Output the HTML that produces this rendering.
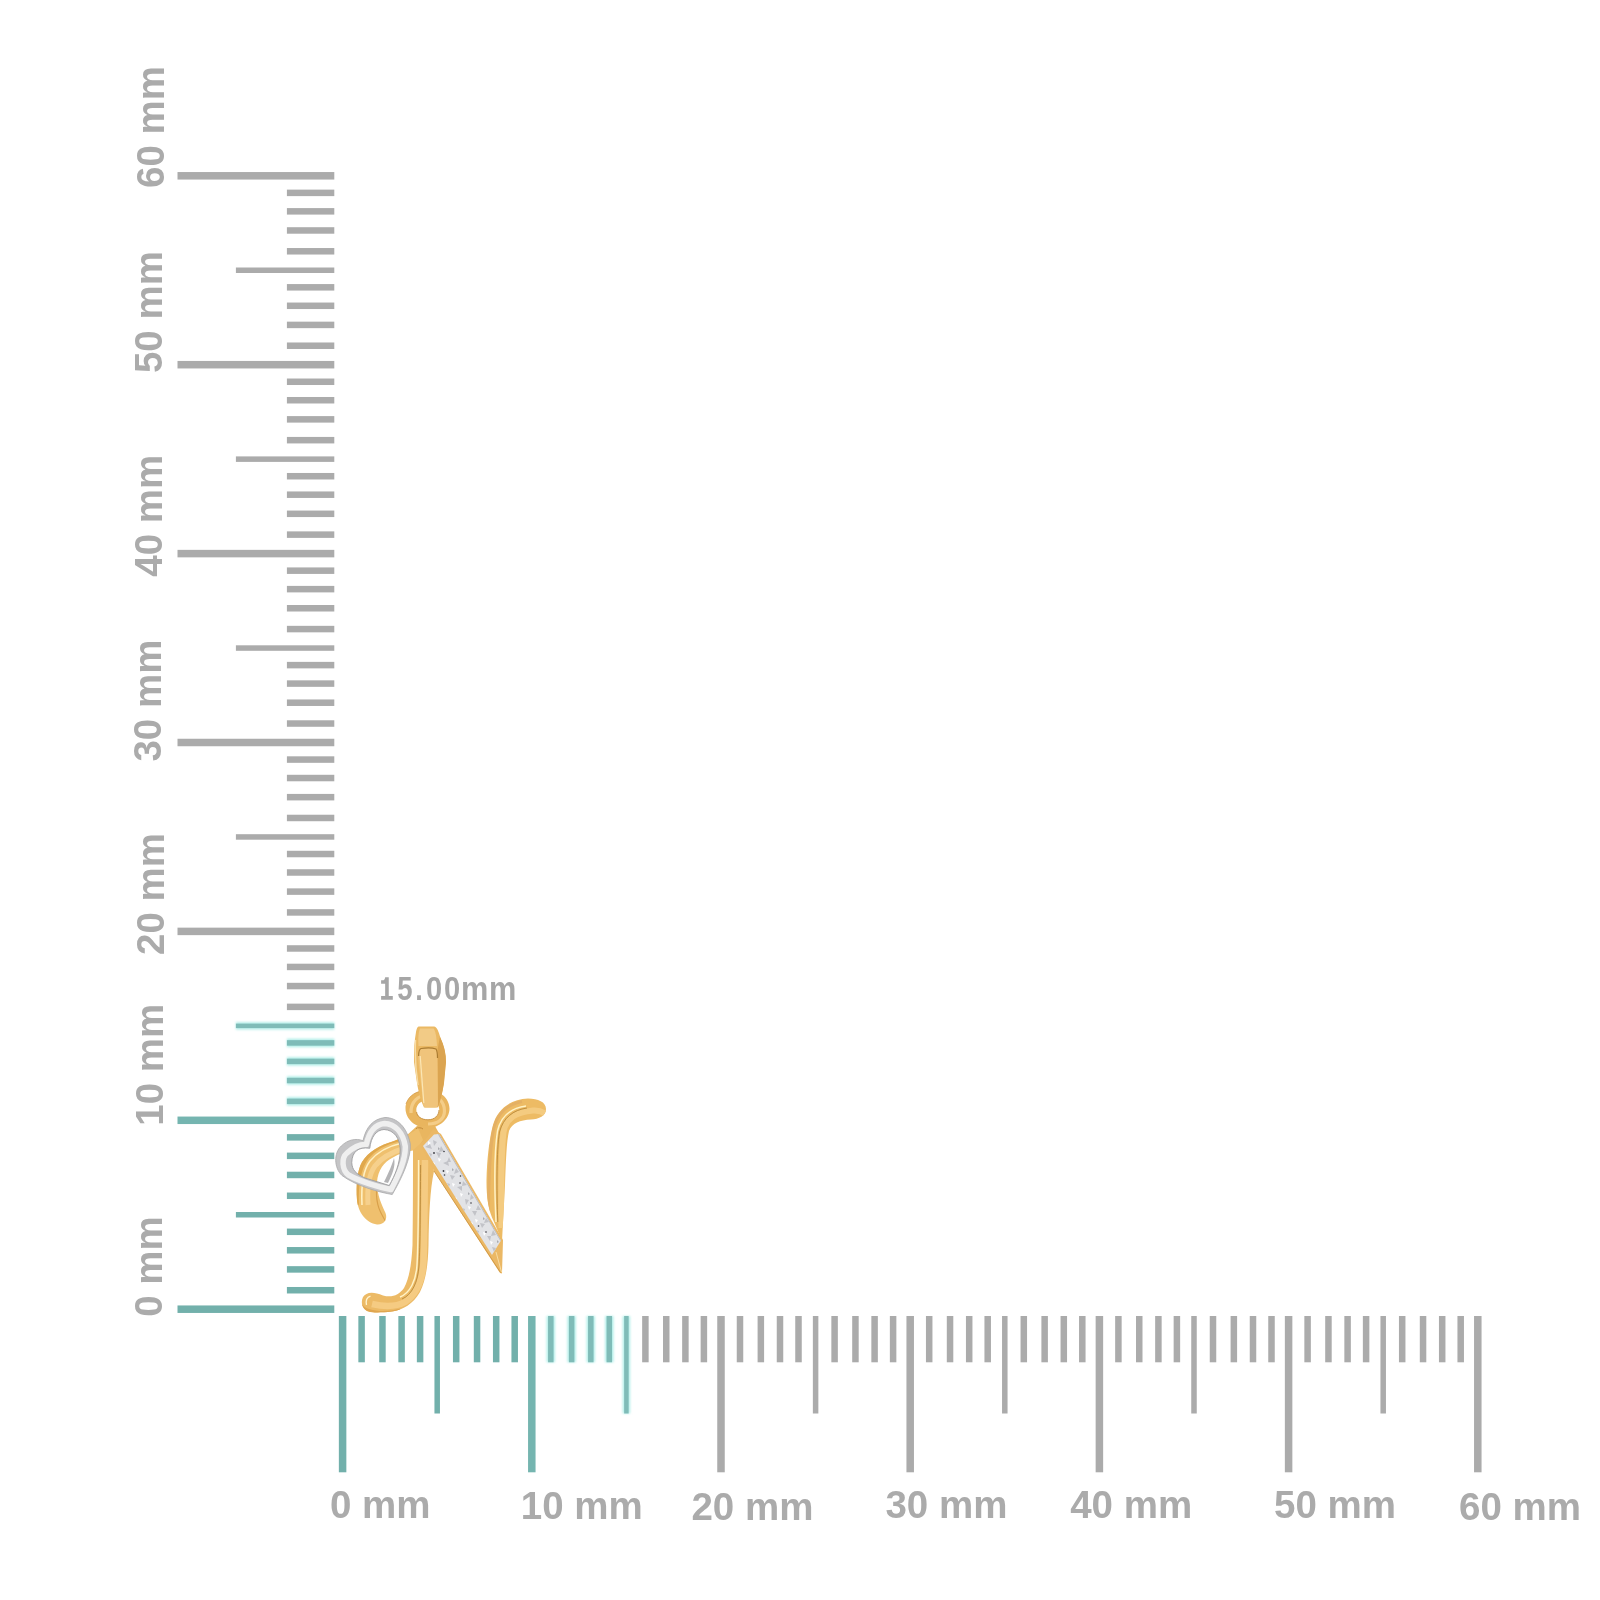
<!DOCTYPE html>
<html><head><meta charset="utf-8"><style>
html,body{margin:0;padding:0;background:#fff;}
body{width:1600px;height:1600px;overflow:hidden;}
svg{display:block;will-change:transform;}
</style></head><body>
<svg width="1600" height="1600" viewBox="0 0 1600 1600">
<defs><filter id="soft" x="-50%" y="-50%" width="200%" height="200%"><feGaussianBlur stdDeviation="0.8"/></filter><filter id="soft2" x="-50%" y="-50%" width="200%" height="200%"><feGaussianBlur stdDeviation="0.4"/></filter></defs>
<rect width="1600" height="1600" fill="#fff"/>
<rect x="177.50" y="1305.45" width="156.80" height="7.5" fill="#72b0ab"/>
<rect x="286.90" y="1286.98" width="47.40" height="6.5" fill="#72b0ab"/>
<rect x="286.90" y="1266.16" width="47.40" height="6.5" fill="#72b0ab"/>
<rect x="286.90" y="1247.04" width="47.40" height="6.5" fill="#72b0ab"/>
<rect x="286.90" y="1228.57" width="47.40" height="6.5" fill="#72b0ab"/>
<rect x="235.90" y="1212.00" width="98.40" height="5.5" fill="#72b0ab"/>
<rect x="286.90" y="1192.53" width="47.40" height="6.5" fill="#72b0ab"/>
<rect x="286.90" y="1171.71" width="47.40" height="6.5" fill="#72b0ab"/>
<rect x="286.90" y="1152.59" width="47.40" height="6.5" fill="#72b0ab"/>
<rect x="286.90" y="1134.12" width="47.40" height="6.5" fill="#72b0ab"/>
<rect x="177.50" y="1116.55" width="156.80" height="7.5" fill="#75b5b0"/>
<rect x="286.90" y="1097.08" width="47.40" height="8.5" fill="#b4efe9" filter="url(#soft)"/>
<rect x="286.90" y="1098.58" width="47.40" height="5.50" fill="#7fbcb8" filter="url(#soft2)"/>
<rect x="286.90" y="1076.26" width="47.40" height="8.5" fill="#b4efe9" filter="url(#soft)"/>
<rect x="286.90" y="1077.76" width="47.40" height="5.50" fill="#7fbcb8" filter="url(#soft2)"/>
<rect x="286.90" y="1057.14" width="47.40" height="8.5" fill="#b4efe9" filter="url(#soft)"/>
<rect x="286.90" y="1058.64" width="47.40" height="5.50" fill="#7fbcb8" filter="url(#soft2)"/>
<rect x="286.90" y="1038.67" width="47.40" height="8.5" fill="#b4efe9" filter="url(#soft)"/>
<rect x="286.90" y="1040.17" width="47.40" height="5.50" fill="#7fbcb8" filter="url(#soft2)"/>
<rect x="235.90" y="1022.10" width="98.40" height="7.5" fill="#b4efe9" filter="url(#soft)"/>
<rect x="235.90" y="1023.60" width="98.40" height="4.50" fill="#7fbcb8" filter="url(#soft2)"/>
<rect x="286.90" y="1003.63" width="47.40" height="6.5" fill="#ababab"/>
<rect x="286.90" y="982.81" width="47.40" height="6.5" fill="#ababab"/>
<rect x="286.90" y="963.69" width="47.40" height="6.5" fill="#ababab"/>
<rect x="286.90" y="945.22" width="47.40" height="6.5" fill="#ababab"/>
<rect x="177.50" y="927.65" width="156.80" height="7.5" fill="#ababab"/>
<rect x="286.90" y="909.18" width="47.40" height="6.5" fill="#ababab"/>
<rect x="286.90" y="888.36" width="47.40" height="6.5" fill="#ababab"/>
<rect x="286.90" y="869.24" width="47.40" height="6.5" fill="#ababab"/>
<rect x="286.90" y="850.77" width="47.40" height="6.5" fill="#ababab"/>
<rect x="235.90" y="834.20" width="98.40" height="5.5" fill="#ababab"/>
<rect x="286.90" y="814.73" width="47.40" height="6.5" fill="#ababab"/>
<rect x="286.90" y="793.91" width="47.40" height="6.5" fill="#ababab"/>
<rect x="286.90" y="774.79" width="47.40" height="6.5" fill="#ababab"/>
<rect x="286.90" y="756.32" width="47.40" height="6.5" fill="#ababab"/>
<rect x="177.50" y="738.75" width="156.80" height="7.5" fill="#ababab"/>
<rect x="286.90" y="720.28" width="47.40" height="6.5" fill="#ababab"/>
<rect x="286.90" y="699.46" width="47.40" height="6.5" fill="#ababab"/>
<rect x="286.90" y="680.34" width="47.40" height="6.5" fill="#ababab"/>
<rect x="286.90" y="661.87" width="47.40" height="6.5" fill="#ababab"/>
<rect x="235.90" y="645.30" width="98.40" height="5.5" fill="#ababab"/>
<rect x="286.90" y="625.83" width="47.40" height="6.5" fill="#ababab"/>
<rect x="286.90" y="605.01" width="47.40" height="6.5" fill="#ababab"/>
<rect x="286.90" y="585.89" width="47.40" height="6.5" fill="#ababab"/>
<rect x="286.90" y="567.42" width="47.40" height="6.5" fill="#ababab"/>
<rect x="177.50" y="549.85" width="156.80" height="7.5" fill="#ababab"/>
<rect x="286.90" y="531.38" width="47.40" height="6.5" fill="#ababab"/>
<rect x="286.90" y="510.56" width="47.40" height="6.5" fill="#ababab"/>
<rect x="286.90" y="491.44" width="47.40" height="6.5" fill="#ababab"/>
<rect x="286.90" y="472.97" width="47.40" height="6.5" fill="#ababab"/>
<rect x="235.90" y="456.40" width="98.40" height="5.5" fill="#ababab"/>
<rect x="286.90" y="436.93" width="47.40" height="6.5" fill="#ababab"/>
<rect x="286.90" y="416.11" width="47.40" height="6.5" fill="#ababab"/>
<rect x="286.90" y="396.99" width="47.40" height="6.5" fill="#ababab"/>
<rect x="286.90" y="378.52" width="47.40" height="6.5" fill="#ababab"/>
<rect x="177.50" y="360.95" width="156.80" height="7.5" fill="#ababab"/>
<rect x="286.90" y="342.48" width="47.40" height="6.5" fill="#ababab"/>
<rect x="286.90" y="321.66" width="47.40" height="6.5" fill="#ababab"/>
<rect x="286.90" y="302.54" width="47.40" height="6.5" fill="#ababab"/>
<rect x="286.90" y="284.07" width="47.40" height="6.5" fill="#ababab"/>
<rect x="235.90" y="267.50" width="98.40" height="5.5" fill="#ababab"/>
<rect x="286.90" y="248.03" width="47.40" height="6.5" fill="#ababab"/>
<rect x="286.90" y="227.21" width="47.40" height="6.5" fill="#ababab"/>
<rect x="286.90" y="208.09" width="47.40" height="6.5" fill="#ababab"/>
<rect x="286.90" y="189.62" width="47.40" height="6.5" fill="#ababab"/>
<rect x="177.50" y="172.05" width="156.80" height="7.5" fill="#ababab"/>
<rect x="338.85" y="1316.0" width="7.5" height="156.30" fill="#72b0ab"/>
<rect x="358.35" y="1316.0" width="6.5" height="46.30" fill="#72b0ab"/>
<rect x="379.20" y="1316.0" width="6.5" height="46.30" fill="#72b0ab"/>
<rect x="398.35" y="1316.0" width="6.5" height="46.30" fill="#72b0ab"/>
<rect x="416.85" y="1316.0" width="6.5" height="46.30" fill="#72b0ab"/>
<rect x="434.45" y="1316.0" width="5.5" height="97.50" fill="#72b0ab"/>
<rect x="452.95" y="1316.0" width="6.5" height="46.30" fill="#72b0ab"/>
<rect x="473.80" y="1316.0" width="6.5" height="46.30" fill="#72b0ab"/>
<rect x="492.95" y="1316.0" width="6.5" height="46.30" fill="#72b0ab"/>
<rect x="511.45" y="1316.0" width="6.5" height="46.30" fill="#72b0ab"/>
<rect x="528.05" y="1316.0" width="7.5" height="156.30" fill="#75b5b0"/>
<rect x="546.55" y="1316.0" width="8.5" height="46.30" fill="#b4efe9" filter="url(#soft)"/>
<rect x="548.05" y="1316.0" width="5.50" height="46.30" fill="#7fbcb8" filter="url(#soft2)"/>
<rect x="567.40" y="1316.0" width="8.5" height="46.30" fill="#b4efe9" filter="url(#soft)"/>
<rect x="568.90" y="1316.0" width="5.50" height="46.30" fill="#7fbcb8" filter="url(#soft2)"/>
<rect x="586.55" y="1316.0" width="8.5" height="46.30" fill="#b4efe9" filter="url(#soft)"/>
<rect x="588.05" y="1316.0" width="5.50" height="46.30" fill="#7fbcb8" filter="url(#soft2)"/>
<rect x="605.05" y="1316.0" width="8.5" height="46.30" fill="#b4efe9" filter="url(#soft)"/>
<rect x="606.55" y="1316.0" width="5.50" height="46.30" fill="#7fbcb8" filter="url(#soft2)"/>
<rect x="622.65" y="1316.0" width="7.5" height="97.50" fill="#b4efe9" filter="url(#soft)"/>
<rect x="624.15" y="1316.0" width="4.50" height="97.50" fill="#7fbcb8" filter="url(#soft2)"/>
<rect x="642.15" y="1316.0" width="6.5" height="46.30" fill="#ababab"/>
<rect x="663.00" y="1316.0" width="6.5" height="46.30" fill="#ababab"/>
<rect x="682.15" y="1316.0" width="6.5" height="46.30" fill="#ababab"/>
<rect x="700.65" y="1316.0" width="6.5" height="46.30" fill="#ababab"/>
<rect x="717.25" y="1316.0" width="7.5" height="156.30" fill="#ababab"/>
<rect x="736.75" y="1316.0" width="6.5" height="46.30" fill="#ababab"/>
<rect x="757.60" y="1316.0" width="6.5" height="46.30" fill="#ababab"/>
<rect x="776.75" y="1316.0" width="6.5" height="46.30" fill="#ababab"/>
<rect x="795.25" y="1316.0" width="6.5" height="46.30" fill="#ababab"/>
<rect x="812.85" y="1316.0" width="5.5" height="97.50" fill="#ababab"/>
<rect x="831.35" y="1316.0" width="6.5" height="46.30" fill="#ababab"/>
<rect x="852.20" y="1316.0" width="6.5" height="46.30" fill="#ababab"/>
<rect x="871.35" y="1316.0" width="6.5" height="46.30" fill="#ababab"/>
<rect x="889.85" y="1316.0" width="6.5" height="46.30" fill="#ababab"/>
<rect x="906.45" y="1316.0" width="7.5" height="156.30" fill="#ababab"/>
<rect x="925.95" y="1316.0" width="6.5" height="46.30" fill="#ababab"/>
<rect x="946.80" y="1316.0" width="6.5" height="46.30" fill="#ababab"/>
<rect x="965.95" y="1316.0" width="6.5" height="46.30" fill="#ababab"/>
<rect x="984.45" y="1316.0" width="6.5" height="46.30" fill="#ababab"/>
<rect x="1002.05" y="1316.0" width="5.5" height="97.50" fill="#ababab"/>
<rect x="1020.55" y="1316.0" width="6.5" height="46.30" fill="#ababab"/>
<rect x="1041.40" y="1316.0" width="6.5" height="46.30" fill="#ababab"/>
<rect x="1060.55" y="1316.0" width="6.5" height="46.30" fill="#ababab"/>
<rect x="1079.05" y="1316.0" width="6.5" height="46.30" fill="#ababab"/>
<rect x="1095.65" y="1316.0" width="7.5" height="156.30" fill="#ababab"/>
<rect x="1115.15" y="1316.0" width="6.5" height="46.30" fill="#ababab"/>
<rect x="1136.00" y="1316.0" width="6.5" height="46.30" fill="#ababab"/>
<rect x="1155.15" y="1316.0" width="6.5" height="46.30" fill="#ababab"/>
<rect x="1173.65" y="1316.0" width="6.5" height="46.30" fill="#ababab"/>
<rect x="1191.25" y="1316.0" width="5.5" height="97.50" fill="#ababab"/>
<rect x="1209.75" y="1316.0" width="6.5" height="46.30" fill="#ababab"/>
<rect x="1230.60" y="1316.0" width="6.5" height="46.30" fill="#ababab"/>
<rect x="1249.75" y="1316.0" width="6.5" height="46.30" fill="#ababab"/>
<rect x="1268.25" y="1316.0" width="6.5" height="46.30" fill="#ababab"/>
<rect x="1284.85" y="1316.0" width="7.5" height="156.30" fill="#ababab"/>
<rect x="1304.35" y="1316.0" width="6.5" height="46.30" fill="#ababab"/>
<rect x="1325.20" y="1316.0" width="6.5" height="46.30" fill="#ababab"/>
<rect x="1344.35" y="1316.0" width="6.5" height="46.30" fill="#ababab"/>
<rect x="1362.85" y="1316.0" width="6.5" height="46.30" fill="#ababab"/>
<rect x="1380.45" y="1316.0" width="5.5" height="97.50" fill="#ababab"/>
<rect x="1398.95" y="1316.0" width="6.5" height="46.30" fill="#ababab"/>
<rect x="1419.80" y="1316.0" width="6.5" height="46.30" fill="#ababab"/>
<rect x="1438.95" y="1316.0" width="6.5" height="46.30" fill="#ababab"/>
<rect x="1457.45" y="1316.0" width="6.5" height="46.30" fill="#ababab"/>
<rect x="1474.05" y="1316.0" width="7.5" height="156.30" fill="#ababab"/>
<text x="330.00" y="1518.00" font-family="Liberation Sans" font-weight="bold" font-size="38.5" fill="#ababab">0 mm</text>
<text x="520.75" y="1518.60" font-family="Liberation Sans" font-weight="bold" font-size="38.5" fill="#ababab">10 mm</text>
<text x="691.40" y="1520.10" font-family="Liberation Sans" font-weight="bold" font-size="38.5" fill="#ababab">20 mm</text>
<text x="885.40" y="1517.70" font-family="Liberation Sans" font-weight="bold" font-size="38.5" fill="#ababab">30 mm</text>
<text x="1070.20" y="1517.90" font-family="Liberation Sans" font-weight="bold" font-size="38.5" fill="#ababab">40 mm</text>
<text x="1274.10" y="1518.40" font-family="Liberation Sans" font-weight="bold" font-size="38.5" fill="#ababab">50 mm</text>
<text x="1459.00" y="1520.00" font-family="Liberation Sans" font-weight="bold" font-size="38.5" fill="#ababab">60 mm</text>
<text transform="translate(164.00,187.90) rotate(-90)" font-family="Liberation Sans" font-weight="bold" font-size="38.5" fill="#ababab">60 mm</text>
<text transform="translate(162.30,373.10) rotate(-90)" font-family="Liberation Sans" font-weight="bold" font-size="38.5" fill="#ababab">50 mm</text>
<text transform="translate(161.75,576.75) rotate(-90)" font-family="Liberation Sans" font-weight="bold" font-size="38.5" fill="#ababab">40 mm</text>
<text transform="translate(161.40,761.60) rotate(-90)" font-family="Liberation Sans" font-weight="bold" font-size="38.5" fill="#ababab">30 mm</text>
<text transform="translate(164.00,955.00) rotate(-90)" font-family="Liberation Sans" font-weight="bold" font-size="38.5" fill="#ababab">20 mm</text>
<text transform="translate(162.50,1125.75) rotate(-90)" font-family="Liberation Sans" font-weight="bold" font-size="38.5" fill="#ababab">10 mm</text>
<text transform="translate(161.90,1316.75) rotate(-90)" font-family="Liberation Sans" font-weight="bold" font-size="38.5" fill="#ababab">0 mm</text>
<path fill="#a6a6a6" d="M385.15 977.2 L388.75 977.2 L388.75 996.1 L392.8 996.1 L392.8 999.7 L381.1 999.7 L381.1 996.1 L385.15 996.1 L385.15 983.8 L381.1 983.8 L381.1 980.2 L383.6 980.2 C384.6 979.5 385 978.5 385.15 977.2 Z"/>
<text transform="translate(397.24,999.8) scale(0.86,1.045)" font-family="Liberation Sans" font-weight="bold" font-size="32" fill="#a6a6a6">5</text>
<text transform="translate(415.30,999.8) scale(0.85,1.0)" font-family="Liberation Sans" font-weight="bold" font-size="32" fill="#a6a6a6">.</text>
<text transform="translate(426.09,999.8) scale(0.91,1.045)" font-family="Liberation Sans" font-weight="bold" font-size="32" fill="#a6a6a6">0</text>
<text transform="translate(444.09,999.8) scale(0.91,1.045)" font-family="Liberation Sans" font-weight="bold" font-size="32" fill="#a6a6a6">0</text>
<text transform="translate(461.08,999.8) scale(0.96,1.02)" font-family="Liberation Sans" font-weight="bold" font-size="32" fill="#a6a6a6">m</text>
<text transform="translate(489.08,999.8) scale(0.96,1.02)" font-family="Liberation Sans" font-weight="bold" font-size="32" fill="#a6a6a6">m</text>
<g id="pendant">
<defs>
  <clipPath id="cBand"><path d="M423 1146 L434 1134.5 L439 1134 L501 1240.5 L492 1255 Z"/></clipPath>
  <clipPath id="cStem"><path d="M413 1150 L425 1140 L434 1171 C430 1190 429 1215 428.5 1245 C428 1265 426 1280 420 1292 C413 1304 403 1310 392 1311.5 C382 1312.5 374 1313 368 1311.5 C362 1309 360.5 1302 363 1297 C366 1292 373 1291 383 1295.5 C392 1298 399 1295 404 1288 C409 1279 411.5 1265 412.5 1245 C413 1215 413 1185 413 1150 Z"/></clipPath>
  <clipPath id="cRight"><path d="M486.5 1180 C487 1160 489 1140 493 1125 C497 1110 510 1099 528 1098.5 C538 1098.5 546 1102 546 1109 C546 1116 539 1119 531 1119.5 C520 1120 512 1123 509 1131 C506.5 1142 506 1160 505 1185 L502 1241 L494 1222 C488 1210 486.3 1195 486.5 1180 Z"/></clipPath>
  <clipPath id="cLead"><path d="M418 1128 C414 1132 404 1137 394 1141 C380 1145 368 1152 362 1162 C357 1171 356 1185 357 1200 C358 1212 366 1223 377 1224.5 C384 1225 388 1219 385.5 1213 C382 1205 377 1196 377 1182 C378 1170 384 1162 392 1158 C400 1153 408 1151 416 1150 L423 1140 Z"/></clipPath>
  <clipPath id="cBail"><path d="M419 1026.5 L434 1026.5 C437 1027 438.5 1031 440.5 1038 C444 1045 446 1053 446 1062 L444 1083 C442 1095 440 1103 437.5 1107.5 L424 1107.5 C421.5 1102 419 1095 417 1083 L414 1062 C413.8 1050 414.5 1040 416 1032 C416.5 1028.5 417.5 1026.5 419 1026.5 Z"/></clipPath>
</defs>
<!-- jump ring -->
<path fill-rule="evenodd" fill="#e9b55e" d="M427.5 1090 C439.5 1090 449.5 1098 449.5 1108.5 C449.5 1119 439.5 1128 427.5 1128 C415.5 1128 405.5 1119 405.5 1108.5 C405.5 1098 415.5 1090 427.5 1090 Z M427.8 1100.2 C421 1100.2 416.3 1104.5 416.3 1110 C416.3 1115.5 421 1119.8 427.8 1119.8 C434.6 1119.8 439.3 1115.5 439.3 1110 C439.3 1104.5 434.6 1100.2 427.8 1100.2 Z"/>
<path fill="none" stroke="#f4cd88" stroke-width="3.2" d="M411 1113 C410.5 1102 418 1095 428 1095 C438 1095 444.5 1102 444.5 1111 C444.5 1119 438 1124 428 1124"/>
<path fill="none" stroke="#c48c3c" stroke-width="0.9" d="M416.6 1112 C416.8 1116 421 1119.8 428 1119.8 C434.6 1119.8 439 1115.5 439 1110"/>
<path fill="none" stroke="#d39b48" stroke-width="0.8" d="M406 1104 C409 1095 417 1090.5 427.5 1090.5"/>
<!-- junction -->
<path fill="#e9b660" d="M417 1126 L435 1126 L441 1137 L423 1150 L415 1150 L405 1137 Z"/>
<path fill="none" stroke="#c28a3a" stroke-width="1" d="M416 1128.5 C419 1127.5 421 1127.5 423 1129"/>
<!-- bail -->
<path fill="#ebb964" d="M419 1026.5 L434 1026.5 C437 1027 438.5 1031 440.5 1038 C444 1045 446 1053 446 1062 L444 1083 C442 1095 440 1103 437.5 1107.5 L424 1107.5 C421.5 1102 419 1095 417 1083 L414 1062 C413.8 1050 414.5 1040 416 1032 C416.5 1028.5 417.5 1026.5 419 1026.5 Z"/>
<g clip-path="url(#cBail)">
<path fill="#f2cb86" d="M420 1028.5 L433.5 1028.5 C435.5 1031 436.5 1036 437 1046 L418.5 1046 C418 1038 418.5 1032 420 1028.5 Z"/>
<path fill="#dba450" d="M440 1036 C444 1045 447 1055 446 1064 L444 1085 C442 1097 440 1104 437.5 1108 L437.5 1050 Z"/>
<path fill="none" stroke="#f8dca4" stroke-width="1.5" d="M415.5 1040 C414.8 1055 415.5 1070 418 1085"/>
</g>
<path fill="#f0c47b" d="M420 1048.5 C426 1047.5 432 1047.5 436 1049 C437.2 1051 437.5 1056 437.5 1064 L438 1104 C438 1106 437 1107.5 435 1107.5 L426 1107.5 C424 1107.5 423.2 1105 423 1102 L418.5 1062 C418.2 1055 418.8 1050 420 1048.5 Z"/>
<path fill="none" stroke="#a97a30" stroke-width="1.2" d="M418.6 1056 C418.7 1051 419.5 1049 421 1048.5 C427 1047.5 432 1047.5 436 1049 C437 1050.5 437.5 1053 437.5 1058"/>
<path fill="none" stroke="#fbe6b4" stroke-width="1.2" d="M420.2 1056 L423.8 1103"/>
<!-- lead-in stroke -->
<path fill="#efc06e" d="M418 1128 C414 1132 404 1137 394 1141 C380 1145 368 1152 362 1162 C357 1171 356 1185 357 1200 C358 1212 366 1223 377 1224.5 C384 1225 388 1219 385.5 1213 C382 1205 377 1196 377 1182 C378 1170 384 1162 392 1158 C400 1153 408 1151 416 1150 L423 1140 Z"/>
<g clip-path="url(#cLead)">
<path fill="none" stroke="#e0a84c" stroke-width="6" d="M356 1205 C355 1185 358 1168 366 1157 C374 1147 386 1141 400 1138"/>
<path fill="none" stroke="#fff0c2" stroke-width="1.6" d="M362 1205 C361 1185 363 1170 370 1161 C378 1151 389 1146 402 1143"/>
<path fill="none" stroke="#f6d08c" stroke-width="5" d="M368 1205 C367 1188 369 1174 375 1166 C382 1157 392 1152 405 1148"/>
<path fill="none" stroke="#d9a04a" stroke-width="1.2" d="M386 1222 C380 1212 376 1205 376.5 1190"/>
</g>
<!-- main stem with bottom swash -->
<path fill="#ecba66" d="M413 1150 L425 1140 L434 1171 C430 1190 429 1215 428.5 1245 C428 1265 426 1280 420 1292 C413 1304 403 1310 392 1311.5 C382 1312.5 374 1313 368 1311.5 C362 1309 360.5 1302 363 1297 C366 1292 373 1291 383 1295.5 C392 1298 399 1295 404 1288 C409 1279 411.5 1265 412.5 1245 C413 1215 413 1185 413 1150 Z"/>
<g clip-path="url(#cStem)">
<path fill="none" stroke="#f5cb82" stroke-width="6.5" d="M425 1160 C424.5 1200 424.5 1240 423.5 1262 C422.5 1280 417 1294 405 1302 C396 1307 385 1307 372 1304"/>
<path fill="none" stroke="#b98a3c" stroke-width="0.9" d="M420.6 1165 C420.3 1210 420.2 1245 419 1265 C418 1282 412 1295 402 1299"/>
<path fill="none" stroke="#fff3c6" stroke-width="1.5" d="M418.6 1160 C418.5 1210 418.2 1245 417 1265 C416 1281 410 1293 400 1297"/>
<path fill="none" stroke="#fff4d0" stroke-width="1.3" d="M366.5 1305 C365.5 1300 367 1297 370.5 1296"/>
<path fill="none" stroke="#e0a650" stroke-width="2.5" d="M361 1305 C366 1313 385 1314 400 1310"/>
</g>
<!-- diagonal gold backing -->
<path fill="#ebb865" d="M421 1146 L433 1129 L441 1134 L503 1240 L502 1273.5 L500 1273 L434 1171 Z"/>
<path fill="none" stroke="#cf9642" stroke-width="0.9" d="M434 1171 L500.5 1272.5"/>
<path fill="none" stroke="#f8dca2" stroke-width="1" d="M496 1252 L501.5 1272"/>
<!-- diamond band -->
<g clip-path="url(#cBand)">
  <rect x="410" y="1125" width="100" height="140" fill="#e2e3e6"/>
  <g fill="#c2c3c8">
    <path d="M425 1147 l5 -3 l2 5 z"/><path d="M433 1140 l4 2 l-3 4 z"/><path d="M436 1152 l5 1 l-2 5 z"/>
    <path d="M441 1146 l3 5 l-5 1 z"/><path d="M443 1163 l5 -2 l1 5 z"/><path d="M449 1157 l2 5 l-4 0 z"/>
    <path d="M450 1175 l5 1 l-3 4 z"/><path d="M456 1168 l3 4 l-5 2 z"/><path d="M457 1187 l5 -1 l0 5 z"/>
    <path d="M463 1181 l4 4 l-5 1 z"/><path d="M465 1199 l4 1 l-3 5 z"/><path d="M471 1194 l3 4 l-4 2 z"/>
    <path d="M472 1211 l5 0 l-2 5 z"/><path d="M478 1205 l3 5 l-5 0 z"/><path d="M480 1223 l5 1 l-3 4 z"/>
    <path d="M486 1218 l3 4 l-5 1 z"/><path d="M487 1236 l4 0 l-1 5 z"/><path d="M493 1230 l3 5 l-5 1 z"/>
    <path d="M492 1247 l4 1 l-2 4 z"/><path d="M429 1153 l3 1 l-1 3 z"/><path d="M447 1183 l3 1 l-1 3 z"/><path d="M462 1208 l3 1 l-1 3 z"/><path d="M476 1230 l3 1 l-1 3 z"/>
  </g>
  <g fill="#a9abb0">
    <path d="M438 1147 l2 2 l-2 1 z"/><path d="M452 1168 l2 2 l-2 1 z"/><path d="M468 1192 l2 2 l-2 1 z"/><path d="M483 1217 l2 2 l-2 1 z"/><path d="M497 1240 l2 2 l-2 1 z"/>
  </g>
  <g fill="#ffffff">
    <path d="M428 1141 l3 2 l-3 2 z"/><path d="M438 1158 l3 1 l-2 3 z"/><path d="M446 1170 l3 1 l-2 3 z"/>
    <path d="M452 1183 l3 1 l-2 3 z"/><path d="M460 1193 l3 1 l-2 3 z"/><path d="M468 1206 l3 1 l-2 3 z"/>
    <path d="M475 1219 l3 1 l-2 3 z"/><path d="M483 1232 l3 1 l-2 3 z"/><path d="M490 1241 l3 1 l-2 3 z"/>
    <path d="M433 1162 l2 1 l-1 2 z"/><path d="M455 1197 l2 1 l-1 2 z"/><path d="M471 1222 l2 1 l-1 2 z"/>
  </g>
  <g fill="#3a3a40">
    <circle cx="434" cy="1153" r="0.9"/><circle cx="444" cy="1151.5" r="0.8"/><circle cx="443.5" cy="1171" r="0.9"/>
    <circle cx="444.5" cy="1175" r="0.8"/><circle cx="460.5" cy="1176" r="0.8"/><circle cx="460" cy="1183" r="0.8"/>
    <circle cx="471" cy="1203" r="0.8"/><circle cx="462" cy="1219" r="0.8"/><circle cx="478.5" cy="1226" r="0.8"/>
    <circle cx="486" cy="1232" r="0.8"/><circle cx="480" cy="1238" r="0.8"/>
  </g>
  <path fill="none" stroke="#b9b9be" stroke-width="1.2" d="M438.5 1134 L500.8 1240.5"/>
</g>
<!-- right stroke -->
<path fill="#edbb64" d="M486.5 1180 C487 1160 489 1140 493 1125 C497 1110 510 1099 528 1098.5 C538 1098.5 546 1102 546 1109 C546 1116 539 1119 531 1119.5 C520 1120 512 1123 509 1131 C506.5 1142 506 1160 505 1185 L502 1241 L494 1222 C488 1210 486.3 1195 486.5 1180 Z"/>
<g clip-path="url(#cRight)">
<path fill="none" stroke="#f4cb80" stroke-width="6" d="M501.5 1228 C501 1190 501.5 1150 503.5 1132 C506 1118 516 1112 533 1110.5 C539 1110 543 1112 546 1114"/>
<path fill="none" stroke="#e4b064" stroke-width="3" d="M488.5 1220 C488.5 1170 490 1145 494 1127 C498 1113 508 1104 522 1101.5"/>
<path fill="none" stroke="#b98a3c" stroke-width="0.9" d="M497.8 1222 C496.5 1190 496.5 1150 499.5 1132 C503 1118 513 1110 527 1108"/>
<path fill="none" stroke="#fff2c4" stroke-width="1.5" d="M496 1222 C494.5 1190 494.5 1150 497.5 1131 C501 1116 511 1108 526 1106"/>
</g>
<!-- heart -->
<path fill-rule="evenodd" fill="#c4c4c6" d="M363 1140.75 C366 1127 373 1119 385 1117.5 C397 1117.5 407 1127 410.25 1143.75 C411.5 1157 402 1178 392.25 1194.5 C380 1192.5 356 1186 342 1175.5 C334 1168 333.5 1153 341.25 1146 C348 1139.5 356 1138 363 1140.75 Z M369.75 1148.25 C358 1146.5 352 1152 351.75 1162.5 C352 1170 356 1174 365 1178 L389.25 1185.5 C395 1175 400 1164 400.25 1150 C400 1138 394 1130 384 1129.5 C376 1130 371 1137 369.75 1148.25 Z"/>
<path fill="none" stroke="#efefef" stroke-width="5.5" stroke-linejoin="round" d="M366.3 1144.5 C369 1132 375 1124.5 384.5 1123.5 C395 1124 403 1132 405.3 1146.5 C405.5 1160 399 1174 391 1189.5 C378 1187 359 1181 348.5 1175 C342 1170 341 1158 347 1153 C353 1147.5 360 1144 366.3 1144.5 Z"/>
<path fill="none" stroke="#9c9c9e" stroke-width="0.9" d="M369.75 1148.25 C358 1146.5 352 1152 351.75 1162.5 C352 1170 356 1174 365 1178 L389.25 1185.5 C395 1175 400 1164 400.25 1150 C400 1138 394 1130 384 1129.5 C376 1130 371 1137 369.75 1148.25 Z"/>
<path fill="none" stroke="#a8a8aa" stroke-width="0.8" d="M363 1140.75 C366 1127 373 1119 385 1117.5 C397 1117.5 407 1127 410.25 1143.75 C411.5 1157 402 1178 392.25 1194.5 C380 1192.5 356 1186 342 1175.5 C334 1168 333.5 1153 341.25 1146 C348 1139.5 356 1138 363 1140.75 Z"/>
<path fill="#b4b4b6" d="M394 1158 C396 1166 392 1175 388 1183 L384 1182 C389 1172 392 1165 394 1158 Z"/>
</g>

</svg>
</body></html>
